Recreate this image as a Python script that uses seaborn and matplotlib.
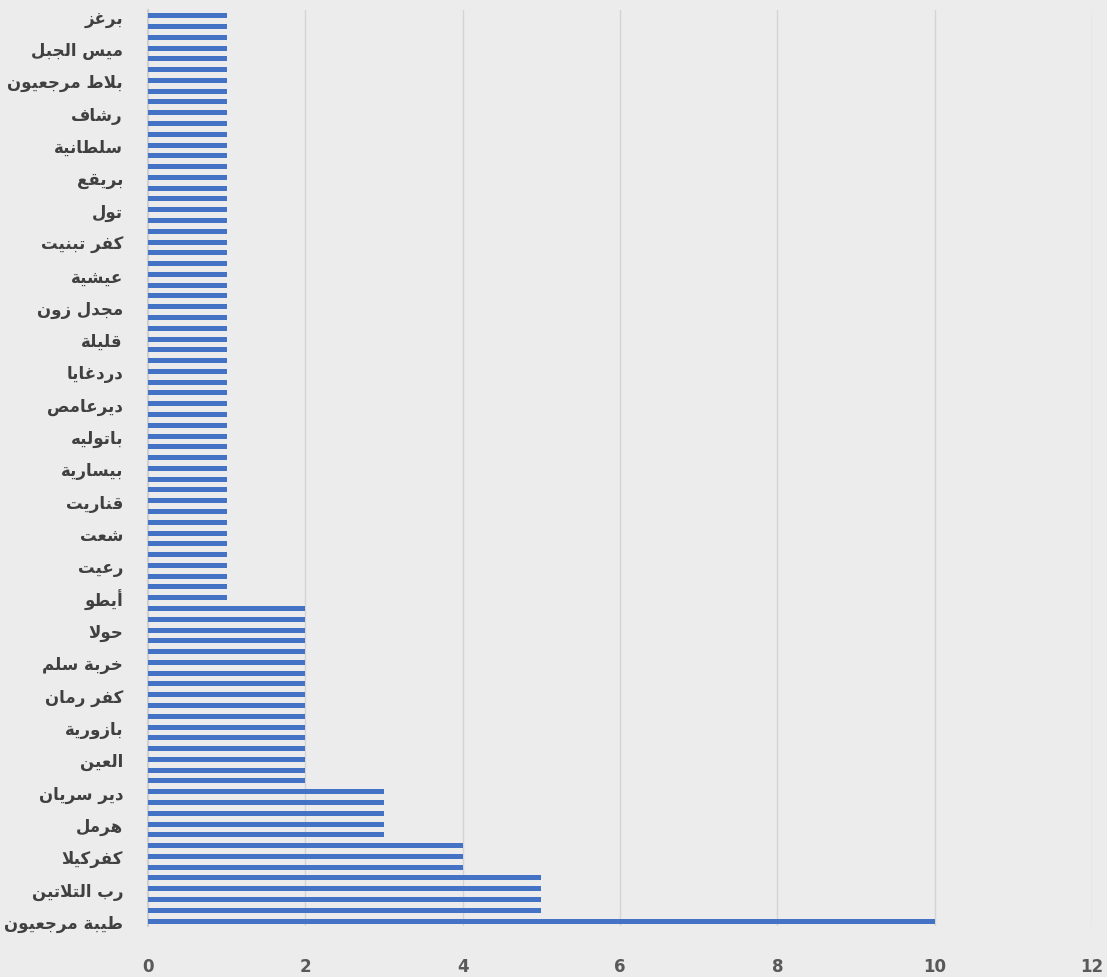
import matplotlib
matplotlib.use('Agg')
import matplotlib.pyplot as plt
import seaborn as sns
import pandas as pd
import numpy as np

# values from bottom (first category) to top
values = [10,
          5, 5, 5, 5,
          4, 4, 4,
          3, 3, 3, 3, 3,
          2, 2, 2, 2, 2, 2, 2, 2, 2, 2, 2, 2, 2, 2, 2, 2, 2,
          1, 1, 1, 1, 1, 1, 1, 1, 1, 1, 1, 1, 1, 1, 1, 1, 1, 1, 1, 1,
          1, 1, 1, 1, 1, 1, 1, 1, 1, 1, 1, 1, 1, 1, 1, 1, 1, 1, 1, 1,
          1, 1, 1, 1, 1, 1, 1, 1, 1, 1, 1, 1, 1, 1, 1]

# labels shown on the axis (every third category, from bottom)
labels = ['طيبة مرجعيون', 'رب التلاتين', 'كفركيلا', 'هرمل', 'دير سريان',
          'العين', 'بازورية', 'كفر رمان', 'خربة سلم', 'حولا',
          'أيطو', 'رعيت', 'شعت', 'قناريت', 'بيسارية',
          'باتوليه', 'ديرعامص', 'دردغايا', 'قليلة', 'مجدل زون',
          'عيشية', 'كفر تبنيت', 'تول', 'بريقع', 'سلطانية',
          'رشاف', 'بلاط مرجعيون', 'ميس الجبل', 'برغز']
label_step = 3
x_ticks = [0, 2, 4, 6, 8, 10, 12]

# ---- simple arabic shaping (matplotlib has no shaping engine) ----
FORMS = {
    'ا': (0xFE8D, 0xFE8E, None, None), 'أ': (0xFE83, 0xFE84, None, None),
    'ب': (0xFE8F, 0xFE90, 0xFE91, 0xFE92), 'ة': (0xFE93, 0xFE94, None, None),
    'ت': (0xFE95, 0xFE96, 0xFE97, 0xFE98), 'ث': (0xFE99, 0xFE9A, 0xFE9B, 0xFE9C),
    'ج': (0xFE9D, 0xFE9E, 0xFE9F, 0xFEA0), 'ح': (0xFEA1, 0xFEA2, 0xFEA3, 0xFEA4),
    'خ': (0xFEA5, 0xFEA6, 0xFEA7, 0xFEA8), 'د': (0xFEA9, 0xFEAA, None, None),
    'ذ': (0xFEAB, 0xFEAC, None, None), 'ر': (0xFEAD, 0xFEAE, None, None),
    'ز': (0xFEAF, 0xFEB0, None, None), 'س': (0xFEB1, 0xFEB2, 0xFEB3, 0xFEB4),
    'ش': (0xFEB5, 0xFEB6, 0xFEB7, 0xFEB8), 'ص': (0xFEB9, 0xFEBA, 0xFEBB, 0xFEBC),
    'ض': (0xFEBD, 0xFEBE, 0xFEBF, 0xFEC0), 'ط': (0xFEC1, 0xFEC2, 0xFEC3, 0xFEC4),
    'ظ': (0xFEC5, 0xFEC6, 0xFEC7, 0xFEC8), 'ع': (0xFEC9, 0xFECA, 0xFECB, 0xFECC),
    'غ': (0xFECD, 0xFECE, 0xFECF, 0xFED0), 'ف': (0xFED1, 0xFED2, 0xFED3, 0xFED4),
    'ق': (0xFED5, 0xFED6, 0xFED7, 0xFED8), 'ك': (0xFED9, 0xFEDA, 0xFEDB, 0xFEDC),
    'ل': (0xFEDD, 0xFEDE, 0xFEDF, 0xFEE0), 'م': (0xFEE1, 0xFEE2, 0xFEE3, 0xFEE4),
    'ن': (0xFEE5, 0xFEE6, 0xFEE7, 0xFEE8), 'ه': (0xFEE9, 0xFEEA, 0xFEEB, 0xFEEC),
    'و': (0xFEED, 0xFEEE, None, None), 'ى': (0xFEEF, 0xFEF0, None, None),
    'ي': (0xFEF1, 0xFEF2, 0xFEF3, 0xFEF4),
}
LAM_ALEF = {'ا': (0xFEFB, 0xFEFC), 'أ': (0xFEF7, 0xFEF8)}


def shape(text):
    try:
        import arabic_reshaper
        from bidi.algorithm import get_display
        return get_display(arabic_reshaper.reshape(text))
    except ImportError:
        pass
    out = []
    chars = list(text)
    i = 0
    while i < len(chars):
        c = chars[i]
        if c not in FORMS:
            out.append(c)
            i += 1
            continue
        prev = chars[i - 1] if i > 0 else None
        joins_prev = prev in FORMS and FORMS[prev][2] is not None
        nxt = chars[i + 1] if i + 1 < len(chars) else None
        if c == 'ل' and nxt in LAM_ALEF:
            iso, fin = LAM_ALEF[nxt]
            out.append(chr(fin if joins_prev else iso))
            i += 2
            continue
        f = FORMS[c]
        joins_next = f[2] is not None and nxt in FORMS
        if joins_prev and joins_next:
            code = f[3]
        elif joins_prev:
            code = f[1]
        elif joins_next:
            code = f[2]
        else:
            code = f[0]
        out.append(chr(code))
        i += 1
    return ''.join(reversed(out))


df = pd.DataFrame({'pos': list(range(len(values))), 'value': values})

sns.set_style('white')
plt.rcParams['font.family'] = ['DejaVu Sans']

fig = plt.figure(figsize=(11.07, 9.78), dpi=100)
fig.patch.set_facecolor('#ececec')
ax = fig.add_axes([0.1337, 0.0517, 0.8528, 0.9367])
ax.set_facecolor('#ececec')

sns.barplot(data=df, x='value', y='pos', orient='h', native_scale=True,
            color='#4472C4', saturation=1, width=0.46, linewidth=0,
            ax=ax, zorder=3)

ax.set_xlim(0, 12)
ax.set_ylim(-0.5, len(values) - 0.5)
ax.set_xticks(x_ticks)
ax.set_xticklabels([str(t) for t in x_ticks], fontsize=12, fontweight='bold', color='#595959')
ax.set_yticks(list(range(0, len(values), label_step)))
ax.set_yticklabels([shape(s) for s in labels], fontsize=12, fontweight='bold', color='#404040')
ax.tick_params(axis='x', length=0, pad=22)
ax.tick_params(axis='y', length=0, pad=18)
ax.grid(axis='x', color='#d4d4d4', linewidth=1, zorder=0)
ax.set_axisbelow(True)
for side in ['top', 'right', 'bottom']:
    ax.spines[side].set_visible(False)
ax.spines['left'].set_color('#d0d0d0')
ax.spines['left'].set_linewidth(1.5)
ax.set_xlabel('')
ax.set_ylabel('')

fig.savefig('out.png', dpi=100, facecolor=fig.get_facecolor())
